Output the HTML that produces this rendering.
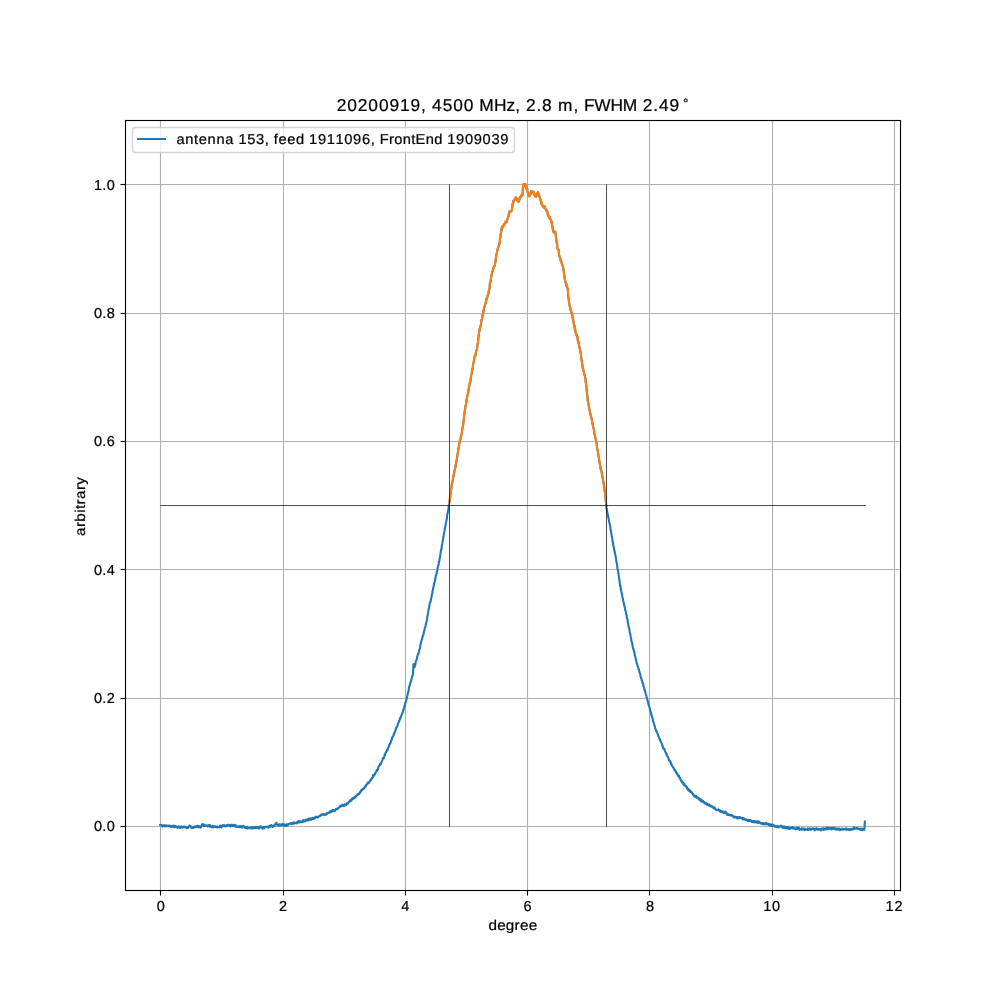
<!DOCTYPE html>
<html><head><meta charset="utf-8"><title>beam plot</title>
<style>
html,body{margin:0;padding:0;background:#fff;}
body{width:1000px;height:1000px;overflow:hidden;font-family:"Liberation Sans",sans-serif;}
svg{display:block;position:absolute;left:0;top:0;will-change:transform;}
text{font-family:"Liberation Sans",sans-serif;fill:#000;text-rendering:geometricPrecision;stroke:#000;stroke-width:0.22px;font-kerning:none;}
</style></head><body>
<svg width="1000" height="1000" viewBox="0 0 1000 1000">
<rect x="0" y="0" width="1000" height="1000" fill="#ffffff"/>
<g stroke="#b0b0b0" stroke-width="1.11" fill="none"><line x1="160.5" y1="120.5" x2="160.5" y2="890.5"/><line x1="283.5" y1="120.5" x2="283.5" y2="890.5"/><line x1="405.5" y1="120.5" x2="405.5" y2="890.5"/><line x1="527.5" y1="120.5" x2="527.5" y2="890.5"/><line x1="649.5" y1="120.5" x2="649.5" y2="890.5"/><line x1="772.5" y1="120.5" x2="772.5" y2="890.5"/><line x1="894.5" y1="120.5" x2="894.5" y2="890.5"/><line x1="125.5" y1="826.5" x2="900.5" y2="826.5"/><line x1="125.5" y1="698.5" x2="900.5" y2="698.5"/><line x1="125.5" y1="569.5" x2="900.5" y2="569.5"/><line x1="125.5" y1="441.5" x2="900.5" y2="441.5"/><line x1="125.5" y1="313.5" x2="900.5" y2="313.5"/><line x1="125.5" y1="184.5" x2="900.5" y2="184.5"/></g>
<defs><clipPath id="ax"><rect x="125.5" y="120.5" width="775.0" height="770.0"/></clipPath></defs>
<g clip-path="url(#ax)" fill="none" stroke-linejoin="round"><path d="M160.2 825.0L160.5 825.0L160.8 824.9L161.1 824.8L161.4 825.3L161.7 825.3L162.0 826.0L162.3 826.6L162.6 825.6L162.9 825.4L163.2 825.8L163.5 825.6L163.8 825.5L164.1 825.1L164.4 825.7L164.7 826.5L165.0 825.8L165.3 826.2L165.6 825.4L165.9 825.5L166.2 825.3L166.5 826.2L166.8 825.8L167.1 826.2L167.4 826.3L167.7 826.2L168.0 825.5L168.3 826.1L168.6 826.2L168.9 826.2L169.2 825.6L169.5 826.2L169.8 825.9L170.1 826.0L170.4 826.9L170.7 826.1L171.0 826.5L171.3 826.9L171.6 826.1L171.9 826.2L172.2 826.5L172.5 826.4L172.8 825.8L173.1 826.5L173.4 827.0L173.7 825.5L174.0 826.8L174.3 826.3L174.6 826.0L174.9 827.3L175.2 826.7L175.5 826.0L175.8 826.7L176.1 827.1L176.4 826.7L176.7 827.3L177.0 827.0L177.3 827.4L177.6 827.7L177.9 826.6L178.2 827.1L178.5 826.9L178.8 827.2L179.1 826.4L179.4 826.8L179.7 827.3L180.0 827.9L180.3 828.0L180.6 826.8L180.9 826.8L181.2 827.6L181.5 826.2L181.8 826.8L182.1 827.0L182.4 827.5L182.7 827.1L183.0 826.9L183.3 826.8L183.6 826.9L183.9 827.4L184.2 826.5L184.5 826.7L184.8 827.2L185.1 827.0L185.4 827.1L185.7 826.8L186.0 827.5L186.3 827.5L186.6 828.3L186.9 827.8L187.2 827.5L187.5 827.8L187.8 827.2L188.1 827.8L188.4 827.0L188.7 827.0L189.0 826.0L189.3 826.6L189.6 825.6L189.9 825.5L190.2 826.1L190.5 826.0L190.8 826.8L191.1 827.8L191.4 826.8L191.7 827.1L192.0 827.4L192.3 827.9L192.6 827.5L192.9 827.5L193.2 828.0L193.5 827.7L193.8 826.7L194.1 827.2L194.4 827.1L194.7 826.5L195.0 827.0L195.3 826.2L195.6 827.2L195.9 826.9L196.2 827.0L196.5 826.5L196.8 826.6L197.1 825.8L197.4 826.3L197.7 826.9L198.0 825.9L198.3 827.1L198.6 826.1L198.9 827.3L199.2 826.6L199.5 827.3L199.8 827.2L200.1 826.2L200.4 827.6L200.7 827.6L201.0 826.6L201.3 826.0L201.6 825.6L201.9 824.6L202.2 825.2L202.5 824.0L202.8 824.1L203.1 824.0L203.4 824.4L203.7 824.5L204.0 825.9L204.3 825.3L204.6 825.9L204.9 825.4L205.2 825.3L205.5 825.8L205.8 825.4L206.1 825.8L206.4 825.7L206.7 826.0L207.0 825.5L207.3 825.4L207.6 826.5L207.9 825.6L208.2 825.3L208.5 825.8L208.8 826.2L209.1 825.1L209.4 825.8L209.7 825.7L210.0 825.2L210.3 826.7L210.6 826.6L210.9 826.7L211.2 826.3L211.5 827.1L211.8 826.5L212.1 826.9L212.4 826.2L212.7 825.9L213.0 827.4L213.3 826.5L213.6 826.8L213.9 826.8L214.2 826.4L214.5 826.3L214.8 827.0L215.1 826.3L215.4 826.4L215.7 826.7L216.0 827.2L216.3 827.2L216.6 827.3L216.9 826.7L217.2 826.4L217.5 827.4L217.8 827.4L218.1 826.9L218.4 827.1L218.7 827.0L219.0 827.1L219.3 826.9L219.6 826.4L219.9 827.1L220.2 825.6L220.5 826.6L220.8 826.6L221.1 826.7L221.4 827.3L221.7 826.9L222.0 825.6L222.3 825.4L222.6 826.3L222.9 825.3L223.2 825.8L223.5 826.2L223.8 825.2L224.1 825.0L224.4 826.2L224.7 826.1L225.0 826.1L225.3 826.3L225.6 825.7L225.9 825.4L226.2 826.1L226.5 825.4L226.8 825.2L227.1 826.1L227.4 825.7L227.7 825.5L228.0 824.7L228.3 824.9L228.6 824.9L228.9 824.9L229.2 825.6L229.5 825.2L229.8 826.1L230.1 825.9L230.4 826.6L230.7 825.0L231.0 826.0L231.3 825.3L231.6 825.4L231.9 824.6L232.2 825.1L232.5 825.8L232.8 825.3L233.1 825.2L233.4 825.2L233.7 826.1L234.0 825.5L234.3 824.7L234.6 825.4L234.9 825.0L235.2 825.1L235.5 826.0L235.8 826.8L236.1 826.5L236.4 825.8L236.7 825.8L237.0 826.9L237.3 826.7L237.6 826.8L237.9 826.7L238.2 826.7L238.5 827.2L238.8 827.3L239.1 826.9L239.4 826.2L239.7 827.0L240.0 826.4L240.3 827.2L240.6 826.1L240.9 826.5L241.2 826.8L241.5 826.0L241.8 827.5L242.1 827.6L242.4 826.7L242.7 827.4L243.0 827.2L243.3 825.8L243.6 827.1L243.9 827.0L244.2 827.3L244.5 826.8L244.8 827.0L245.1 827.3L245.4 828.0L245.7 827.4L246.0 827.5L246.3 828.1L246.6 827.1L246.9 827.3L247.2 826.8L247.5 828.5L247.8 828.5L248.1 828.2L248.4 827.9L248.7 827.7L249.0 827.8L249.3 827.5L249.6 827.5L249.9 827.6L250.2 828.3L250.5 828.2L250.8 827.8L251.1 827.5L251.4 827.4L251.7 828.6L252.0 828.1L252.3 828.1L252.6 827.6L252.9 827.2L253.2 827.9L253.5 828.3L253.8 827.5L254.1 827.7L254.4 827.7L254.7 828.0L255.0 827.0L255.3 827.5L255.6 827.1L255.9 827.9L256.2 827.0L256.5 827.5L256.8 828.0L257.1 827.6L257.4 827.5L257.7 828.1L258.0 828.0L258.3 827.4L258.6 828.0L258.9 828.6L259.2 827.1L259.5 827.0L259.8 826.5L260.1 827.1L260.4 826.3L260.7 826.3L261.0 827.6L261.3 826.6L261.6 827.8L261.9 828.1L262.2 827.6L262.5 827.9L262.8 828.6L263.1 827.7L263.4 827.7L263.7 827.1L264.0 827.6L264.3 828.3L264.6 827.7L264.9 826.9L265.2 826.7L265.5 826.7L265.8 827.0L266.1 826.9L266.4 826.9L266.7 827.1L267.0 826.8L267.3 826.7L267.6 826.8L267.9 826.6L268.2 826.9L268.5 827.6L268.8 827.1L269.1 826.7L269.4 826.0L269.7 826.7L270.0 825.5L270.3 825.5L270.6 826.7L270.9 826.3L271.2 826.1L271.5 825.1L271.8 825.9L272.1 825.9L272.4 826.6L272.7 826.9L273.0 826.4L273.3 825.8L273.6 825.6L273.9 826.0L274.2 825.6L274.5 824.9L274.8 825.7L275.1 824.4L275.4 824.5L275.7 823.7L276.0 823.3L276.3 822.6L276.6 823.7L276.9 824.1L277.2 824.6L277.5 825.2L277.8 825.0L278.1 824.6L278.4 825.6L278.7 825.1L279.0 825.1L279.3 825.5L279.6 824.2L279.9 824.7L280.2 825.4L280.5 825.5L280.8 824.9L281.1 825.6L281.4 825.0L281.7 824.2L282.0 824.3L282.3 824.9L282.6 824.7L282.9 823.8L283.2 825.4L283.5 825.1L283.8 825.5L284.1 824.7L284.4 824.7L284.7 824.4L285.0 826.1L285.3 824.9L285.6 825.9L285.9 824.8L286.2 825.3L286.5 824.4L286.8 825.2L287.1 825.6L287.4 824.5L287.7 825.4L288.0 824.8L288.3 823.9L288.6 824.2L288.9 824.1L289.2 824.1L289.5 823.7L289.8 823.6L290.1 823.8L290.4 823.5L290.7 823.2L291.0 823.7L291.3 824.2L291.6 823.2L291.9 823.7L292.2 823.3L292.5 822.9L292.8 823.7L293.1 822.8L293.4 823.8L293.7 822.4L294.0 823.0L294.3 822.8L294.6 822.6L294.9 823.5L295.2 823.1L295.5 823.3L295.8 823.1L296.1 822.6L296.4 822.8L296.7 822.9L297.0 823.3L297.3 822.4L297.6 822.5L297.9 821.4L298.2 822.4L298.5 821.6L298.8 821.2L299.1 821.8L299.4 822.4L299.7 821.3L300.0 821.5L300.3 821.8L300.6 821.4L300.9 822.3L301.2 821.8L301.5 821.7L301.8 822.1L302.1 821.5L302.4 821.8L302.7 821.0L303.0 820.4L303.3 820.0L303.6 821.7L303.9 820.6L304.2 820.7L304.5 820.5L304.8 820.6L305.1 820.5L305.4 821.3L305.7 819.7L306.0 819.6L306.3 819.9L306.6 819.8L306.9 820.5L307.2 820.3L307.5 819.3L307.8 819.3L308.1 819.6L308.4 820.4L308.7 818.6L309.0 819.9L309.3 819.1L309.6 820.1L309.9 818.9L310.2 819.1L310.5 818.4L310.8 818.6L311.1 819.8L311.4 819.4L311.7 818.8L312.0 818.5L312.3 817.9L312.6 818.8L312.9 818.9L313.2 818.8L313.5 818.8L313.8 817.9L314.1 818.3L314.4 817.9L314.7 818.5L315.0 818.3L315.3 817.4L315.6 816.8L315.9 817.1L316.2 816.8L316.5 816.9L316.8 817.0L317.1 816.8L317.4 817.5L317.7 817.2L318.0 817.3L318.3 817.0L318.6 816.6L318.9 816.2L319.2 816.2L319.5 815.9L319.8 816.1L320.1 815.9L320.4 815.1L320.7 815.6L321.0 814.9L321.3 815.0L321.6 815.0L321.9 814.3L322.2 814.8L322.5 814.8L322.8 814.7L323.1 814.2L323.4 814.6L323.7 814.1L324.0 814.3L324.3 814.6L324.6 815.0L324.9 814.2L325.2 815.0L325.5 814.5L325.8 814.6L326.1 814.1L326.4 814.3L326.7 813.1L327.0 813.9L327.3 813.6L327.6 813.6L327.9 813.3L328.2 812.9L328.5 813.0L328.8 813.0L329.1 812.8L329.4 812.5L329.7 811.4L330.0 812.4L330.3 812.3L330.6 812.1L330.9 811.7L331.2 810.8L331.5 811.9L331.8 811.3L332.1 810.2L332.4 811.2L332.7 809.9L333.0 810.0L333.3 810.2L333.6 811.1L333.9 810.2L334.2 810.5L334.5 811.1L334.8 811.0L335.1 810.0L335.4 809.8L335.7 809.1L336.0 808.9L336.3 809.2L336.6 809.2L336.9 808.9L337.2 809.2L337.5 808.2L337.8 808.2L338.1 808.5L338.4 808.3L338.7 808.0L339.0 807.6L339.3 807.0L339.6 807.0L339.9 806.2L340.2 805.8L340.5 806.8L340.8 806.5L341.1 806.3L341.4 805.3L341.7 805.7L342.0 805.5L342.3 805.2L342.6 804.6L342.9 805.4L343.2 806.1L343.5 805.8L343.8 805.3L344.1 805.4L344.4 805.7L344.7 804.3L345.0 804.7L345.3 804.9L345.6 804.8L345.9 805.2L346.2 804.8L346.5 804.0L346.8 803.6L347.1 804.0L347.4 803.1L347.7 802.9L348.0 803.1L348.3 803.3L348.6 802.0L348.9 801.8L349.2 801.3L349.5 801.7L349.8 800.9L350.1 801.4L350.4 800.1L350.7 800.5L351.0 800.3L351.3 800.7L351.6 800.4L351.9 798.8L352.2 798.9L352.5 799.2L352.8 798.4L353.1 797.8L353.4 798.7L353.7 798.5L354.0 798.3L354.3 797.4L354.6 797.9L354.9 797.1L355.2 797.6L355.5 796.3L355.8 796.0L356.1 796.2L356.4 795.5L356.7 795.8L357.0 795.2L357.3 794.4L357.6 794.7L357.9 794.1L358.2 794.6L358.5 793.7L358.8 793.6L359.1 794.0L359.4 793.8L359.7 793.5L360.0 792.1L360.3 791.8L360.6 792.1L360.9 790.8L361.2 790.2L361.5 790.7L361.8 790.2L362.1 789.5L362.4 789.0L362.7 788.8L363.0 789.5L363.3 788.6L363.6 788.7L363.9 788.6L364.2 788.4L364.5 787.3L364.8 787.4L365.1 786.4L365.4 786.3L365.7 785.4L366.0 786.3L366.3 785.3L366.6 784.5L366.9 784.3L367.2 783.9L367.5 783.8L367.8 782.6L368.1 782.5L368.4 782.3L368.7 783.3L369.0 782.3L369.3 781.5L369.6 781.7L369.9 781.7L370.2 780.3L370.5 779.9L370.8 780.2L371.1 779.7L371.4 779.1L371.7 778.1L372.0 778.9L372.3 778.3L372.6 777.2L372.9 777.0L373.2 775.0L373.5 776.3L373.8 775.5L374.1 775.3L374.4 775.1L374.7 774.4L375.0 773.1L375.3 773.7L375.6 772.5L375.9 772.2L376.2 771.7L376.5 771.3L376.8 769.8L377.1 770.7L377.4 769.7L377.7 769.5L378.0 769.3L378.3 767.6L378.6 766.1L378.9 766.1L379.2 765.6L379.5 765.3L379.8 765.3L380.1 763.8L380.4 764.8L380.7 763.4L381.0 763.7L381.3 762.8L381.6 761.8L381.9 761.1L382.2 760.3L382.5 759.5L382.8 758.1L383.1 758.5L383.4 758.8L383.7 758.6L384.0 757.4L384.3 756.5L384.6 754.9L384.9 755.5L385.2 754.0L385.5 753.2L385.8 752.5L386.1 752.4L386.4 751.5L386.7 751.2L387.0 750.1L387.3 749.7L387.6 750.2L387.9 748.3L388.2 747.6L388.5 747.3L388.8 746.6L389.1 744.9L389.4 744.6L389.7 744.6L390.0 743.7L390.3 742.7L390.6 742.9L390.9 741.1L391.2 740.7L391.5 739.6L391.8 739.8L392.1 737.5L392.4 737.6L392.7 736.7L393.0 736.5L393.3 735.8L393.6 735.5L393.9 733.5L394.2 733.9L394.5 732.8L394.8 731.9L395.1 731.7L395.4 730.4L395.7 729.2L396.0 729.0L396.3 727.5L396.6 727.0L396.9 726.8L397.2 726.0L397.5 725.9L397.8 724.4L398.1 723.2L398.4 722.9L398.7 722.0L399.0 721.1L399.3 721.3L399.6 719.9L399.9 718.4L400.2 718.9L400.5 717.6L400.8 716.9L401.1 716.0L401.4 715.5L401.7 714.5L402.0 714.2L402.3 713.1L402.6 712.6L402.9 711.9L403.2 710.0L403.5 709.7L403.8 708.6L404.1 707.8L404.4 706.0L404.7 706.5L405.0 704.6L405.3 703.3L405.6 702.0L405.9 701.6L406.2 700.7L406.5 699.1L406.8 698.3L407.1 696.7L407.4 695.9L407.7 693.9L408.0 692.9L408.3 691.9L408.6 691.0L408.9 688.1L409.2 687.1L409.5 685.7L409.8 685.4L410.1 683.5L410.4 682.9L410.7 682.3L411.0 680.8L411.3 679.8L411.6 678.8L411.9 677.2L412.2 676.3L412.5 675.7L412.8 674.7L413.1 672.3L413.4 664.3L413.7 664.0L414.0 665.8L414.3 667.3L414.6 667.2L414.9 665.8L415.2 665.4L415.5 663.4L415.8 661.5L416.1 660.7L416.4 660.6L416.7 659.0L417.0 658.4L417.3 656.4L417.6 656.0L417.9 654.4L418.2 653.5L418.5 653.7L418.8 652.2L419.1 650.6L419.4 649.8L419.7 648.9L420.0 648.0L420.3 645.8L420.6 643.6L420.9 642.9L421.2 641.6L421.5 640.5L421.8 640.0L422.1 638.3L422.4 637.6L422.7 635.8L423.0 635.8L423.3 635.3L423.6 633.6L423.9 632.0L424.2 630.8L424.5 630.3L424.8 627.8L425.1 627.2L425.4 626.6L425.7 625.6L426.0 623.7L426.3 622.9L426.6 621.3L426.9 619.9L427.2 617.9L427.5 615.5L427.8 614.4L428.1 613.1L428.4 610.6L428.7 609.2L429.0 607.9L429.3 605.6L429.6 605.0L429.9 603.0L430.2 602.7L430.5 601.9L430.8 600.6L431.1 598.3L431.4 597.5L431.7 595.6L432.0 594.2L432.3 593.5L432.6 590.4L432.9 590.1L433.2 588.0L433.5 587.3L433.8 585.3L434.1 583.4L434.4 582.8L434.7 581.7L435.0 580.1L435.3 579.1L435.6 577.4L435.9 575.3L436.2 575.4L436.5 573.7L436.8 572.2L437.1 570.8L437.4 570.0L437.7 567.6L438.0 566.1L438.3 565.2L438.6 564.8L438.9 561.9L439.2 562.0L439.5 559.3L439.8 557.6L440.1 557.0L440.4 554.6L440.7 552.0L441.0 550.8L441.3 549.6L441.6 548.0L441.9 545.3L442.2 544.0L442.5 542.4L442.8 540.2L443.1 538.9L443.4 537.0L443.7 535.0L444.0 533.3L444.3 531.9L444.6 530.2L444.9 528.2L445.2 526.6L445.5 525.7L445.8 523.5L446.1 522.5L446.4 521.0L446.7 518.9L447.0 517.9L447.3 514.5L447.6 513.7L447.9 511.3L448.2 510.7L448.5 508.7L448.8 504.9L449.1 503.5L449.4 502.4L449.7 500.4L450.0 498.1L450.3 495.4L450.6 493.6L450.9 491.6L451.2 489.1L451.5 487.7L451.8 484.1L452.1 483.9L452.4 481.2L452.7 480.8L453.0 478.6L453.3 476.7L453.6 475.9L453.9 473.7L454.2 472.2L454.5 470.3L454.8 469.6L455.1 468.5L455.4 467.4L455.7 465.0L456.0 464.3L456.3 461.9L456.6 460.1L456.9 458.8L457.2 457.2L457.5 454.4L457.8 453.0L458.1 450.9L458.4 449.2L458.7 447.0L459.0 446.1L459.3 443.6L459.6 442.7L459.9 440.5L460.2 439.7L460.5 438.4L460.8 436.5L461.1 436.6L461.4 434.1L461.7 433.5L462.0 431.3L462.3 428.9L462.6 427.5L462.9 426.3L463.2 424.1L463.5 422.1L463.8 419.4L464.1 416.1L464.4 414.6L464.7 411.1L465.0 410.1L465.3 407.3L465.6 405.5L465.9 404.4L466.2 403.0L466.5 400.3L466.8 398.6L467.1 397.6L467.4 395.7L467.7 394.6L468.0 394.4L468.3 391.2L468.6 390.5L468.9 387.7L469.2 386.8L469.5 384.8L469.8 383.3L470.1 382.2L470.4 381.3L470.7 378.8L471.0 377.0L471.3 374.8L471.6 374.0L471.9 371.9L472.2 370.8L472.5 368.6L472.8 367.8L473.1 363.8L473.4 363.0L473.7 362.3L474.0 359.8L474.3 358.0L474.6 356.7L474.9 355.2L475.2 355.0L475.5 355.5L475.8 353.8L476.1 351.4L476.4 350.6L476.7 350.0L477.0 349.3L477.3 346.5L477.6 344.1L477.9 342.6L478.2 340.0L478.5 336.9L478.8 334.5L479.1 332.4L479.4 331.2L479.7 328.6L480.0 328.8L480.3 326.5L480.6 325.6L480.9 324.8L481.2 322.8L481.5 319.8L481.8 320.1L482.1 318.8L482.4 316.0L482.7 314.7L483.0 313.9L483.3 311.4L483.6 312.1L483.9 308.4L484.2 307.7L484.5 306.8L484.8 305.5L485.1 304.9L485.4 303.9L485.7 302.2L486.0 302.1L486.3 299.1L486.6 299.8L486.9 298.3L487.2 297.7L487.5 296.8L487.8 295.3L488.1 294.4L488.4 293.9L488.7 292.1L489.0 289.9L489.3 290.0L489.6 287.9L489.9 283.4L490.2 282.6L490.5 282.3L490.8 279.9L491.1 277.7L491.4 275.8L491.7 274.3L492.0 273.1L492.3 271.6L492.6 271.4L492.9 269.8L493.2 268.9L493.5 267.6L493.8 267.5L494.1 266.1L494.4 265.8L494.7 265.6L495.0 263.9L495.3 262.4L495.6 260.4L495.9 258.1L496.2 256.0L496.5 254.0L496.8 253.3L497.1 250.5L497.4 250.9L497.7 249.1L498.0 247.8L498.3 247.1L498.6 245.9L498.9 245.6L499.2 244.0L499.5 244.3L499.8 241.3L500.1 238.3L500.4 237.0L500.7 233.8L501.0 232.9L501.3 231.5L501.6 229.5L501.9 226.6L502.2 226.4L502.5 227.7L502.8 226.1L503.1 225.5L503.4 225.9L503.7 226.2L504.0 225.3L504.3 223.9L504.6 223.7L504.9 223.7L505.2 222.4L505.5 221.9L505.8 222.5L506.1 221.3L506.4 221.6L506.7 221.0L507.0 221.9L507.3 219.2L507.6 218.7L507.9 217.6L508.2 217.0L508.5 216.1L508.8 214.0L509.1 212.7L509.4 211.5L509.7 211.6L510.0 212.3L510.3 211.8L510.6 210.8L510.9 211.1L511.2 211.2L511.5 210.9L511.8 209.7L512.1 209.2L512.4 205.4L512.7 203.3L513.0 204.3L513.3 200.9L513.6 201.5L513.9 201.3L514.2 200.1L514.5 199.5L514.8 199.8L515.1 199.4L515.4 198.9L515.7 197.3L516.0 198.6L516.3 198.2L516.6 198.3L516.9 199.1L517.2 200.0L517.5 201.0L517.8 200.5L518.1 201.8L518.4 202.0L518.7 201.8L519.0 201.3L519.3 199.3L519.6 198.3L519.9 198.6L520.2 196.6L520.5 197.5L520.8 196.6L521.1 196.4L521.4 195.2L521.7 195.5L522.0 195.6L522.3 195.7L522.6 194.0L522.9 188.4L523.2 184.6L523.5 184.0L523.8 184.9L524.1 184.4L524.4 185.2L524.7 186.2L525.0 185.0L525.3 184.0L525.6 184.8L525.9 184.8L526.2 185.8L526.5 188.7L526.8 188.7L527.1 188.3L527.4 190.9L527.7 192.5L528.0 192.5L528.3 193.6L528.6 194.9L528.9 196.2L529.2 196.3L529.5 196.3L529.8 195.8L530.1 195.0L530.4 194.2L530.7 193.2L531.0 191.2L531.3 192.4L531.6 192.6L531.9 191.7L532.2 192.6L532.5 192.0L532.8 191.5L533.1 193.1L533.4 192.4L533.7 192.1L534.0 193.3L534.3 194.6L534.6 195.1L534.9 194.4L535.2 196.3L535.5 196.7L535.8 196.0L536.1 196.3L536.4 196.4L536.7 194.5L537.0 193.5L537.3 195.2L537.6 192.9L537.9 192.1L538.2 193.2L538.5 193.8L538.8 193.8L539.1 196.2L539.4 196.3L539.7 197.0L540.0 198.5L540.3 199.9L540.6 199.8L540.9 201.3L541.2 201.7L541.5 204.2L541.8 203.0L542.1 205.5L542.4 205.1L542.7 205.3L543.0 206.2L543.3 206.8L543.6 207.4L543.9 206.7L544.2 206.2L544.5 206.2L544.8 207.5L545.1 208.0L545.4 209.0L545.7 208.7L546.0 209.9L546.3 210.8L546.6 210.8L546.9 210.4L547.2 211.5L547.5 212.1L547.8 215.2L548.1 213.8L548.4 216.1L548.7 216.1L549.0 217.5L549.3 217.4L549.6 216.9L549.9 217.3L550.2 218.5L550.5 219.3L550.8 219.5L551.1 220.5L551.4 222.8L551.7 221.4L552.0 224.5L552.3 225.4L552.6 227.8L552.9 230.2L553.2 231.1L553.5 232.1L553.8 231.0L554.1 233.0L554.4 232.0L554.7 233.2L555.0 232.9L555.3 231.7L555.6 234.1L555.9 236.7L556.2 240.0L556.5 241.2L556.8 243.3L557.1 243.8L557.4 247.4L557.7 249.0L558.0 248.9L558.3 249.7L558.6 250.0L558.9 253.2L559.2 255.6L559.5 256.1L559.8 257.7L560.1 258.4L560.4 258.5L560.7 261.0L561.0 259.9L561.3 261.4L561.6 262.7L561.9 264.0L562.2 264.5L562.5 265.8L562.8 266.3L563.1 267.4L563.4 269.6L563.7 270.9L564.0 273.0L564.3 275.7L564.6 278.4L564.9 279.2L565.2 280.9L565.5 281.5L565.8 283.6L566.1 284.3L566.4 285.9L566.7 284.3L567.0 285.7L567.3 287.7L567.6 288.5L567.9 291.0L568.2 295.9L568.5 298.0L568.8 300.3L569.1 302.2L569.4 304.9L569.7 306.3L570.0 306.6L570.3 308.0L570.6 309.9L570.9 310.8L571.2 310.9L571.5 312.8L571.8 314.1L572.1 313.7L572.4 316.2L572.7 318.1L573.0 319.2L573.3 319.5L573.6 322.3L573.9 324.6L574.2 326.7L574.5 325.6L574.8 329.7L575.1 328.6L575.4 331.4L575.7 332.8L576.0 333.5L576.3 334.2L576.6 334.2L576.9 336.4L577.2 336.7L577.5 336.8L577.8 340.7L578.1 340.9L578.4 342.8L578.7 342.4L579.0 345.2L579.3 346.5L579.6 348.3L579.9 348.8L580.2 350.2L580.5 352.9L580.8 353.7L581.1 356.2L581.4 359.3L581.7 360.6L582.0 362.9L582.3 364.7L582.6 367.4L582.9 368.3L583.2 369.0L583.5 371.4L583.8 371.4L584.1 372.9L584.4 374.8L584.7 374.7L585.0 376.9L585.3 377.6L585.6 380.3L585.9 383.5L586.2 384.9L586.5 388.5L586.8 391.1L587.1 394.0L587.4 396.4L587.7 400.1L588.0 402.3L588.3 403.3L588.6 404.3L588.9 406.7L589.2 407.5L589.5 410.1L589.8 411.3L590.1 412.7L590.4 414.1L590.7 415.0L591.0 416.5L591.3 417.1L591.6 419.2L591.9 420.0L592.2 422.2L592.5 423.1L592.8 425.2L593.1 426.9L593.4 427.2L593.7 428.9L594.0 430.2L594.3 432.8L594.6 434.8L594.9 435.8L595.2 436.4L595.5 438.9L595.8 438.8L596.1 442.3L596.4 442.5L596.7 443.4L597.0 447.5L597.3 449.3L597.6 449.7L597.9 452.3L598.2 454.0L598.5 456.0L598.8 457.1L599.1 459.4L599.4 461.6L599.7 463.1L600.0 465.1L600.3 466.1L600.6 468.8L600.9 468.5L601.2 470.4L601.5 470.6L601.8 472.7L602.1 475.9L602.4 476.3L602.7 478.7L603.0 480.1L603.3 481.3L603.6 483.4L603.9 485.0L604.2 487.0L604.5 489.6L604.8 491.8L605.1 493.6L605.4 496.4L605.7 500.1L606.0 502.9L606.3 506.0L606.6 508.8L606.9 510.2L607.2 511.7L607.5 513.3L607.8 514.7L608.1 516.2L608.4 517.6L608.7 519.2L609.0 520.6L609.3 522.6L609.6 523.3L609.9 525.0L610.2 525.9L610.5 529.0L610.8 530.2L611.1 532.4L611.4 533.6L611.7 536.0L612.0 536.9L612.3 539.2L612.6 541.8L612.9 541.7L613.2 544.6L613.5 546.6L613.8 547.3L614.1 548.9L614.4 550.9L614.7 551.4L615.0 553.5L615.3 554.4L615.6 556.2L615.9 558.1L616.2 560.2L616.5 562.2L616.8 563.9L617.1 564.6L617.4 568.3L617.7 569.5L618.0 571.0L618.3 572.6L618.6 574.7L618.9 577.1L619.2 579.2L619.5 580.2L619.8 583.5L620.1 586.1L620.4 585.5L620.7 588.6L621.0 589.9L621.3 591.1L621.6 593.4L621.9 593.4L622.2 595.6L622.5 597.7L622.8 598.2L623.1 599.7L623.4 601.5L623.7 602.4L624.0 604.9L624.3 604.9L624.6 607.2L624.9 607.8L625.2 610.1L625.5 611.0L625.8 611.3L626.1 613.8L626.4 614.4L626.7 616.4L627.0 618.6L627.3 618.7L627.6 620.1L627.9 623.0L628.2 624.0L628.5 626.3L628.8 626.9L629.1 627.9L629.4 629.7L629.7 631.9L630.0 633.4L630.3 634.2L630.6 635.9L630.9 637.4L631.2 638.7L631.5 641.7L631.8 642.1L632.1 642.8L632.4 644.5L632.7 646.4L633.0 648.0L633.3 648.6L633.6 649.6L633.9 651.2L634.2 651.6L634.5 652.9L634.8 655.5L635.1 655.9L635.4 657.7L635.7 659.1L636.0 660.2L636.3 660.9L636.6 663.2L636.9 663.6L637.2 664.1L637.5 665.7L637.8 666.7L638.1 666.9L638.4 668.6L638.7 669.7L639.0 669.6L639.3 671.6L639.6 672.6L639.9 673.5L640.2 674.0L640.5 675.9L640.8 677.1L641.1 678.2L641.4 678.3L641.7 680.4L642.0 680.5L642.3 682.0L642.6 683.4L642.9 683.2L643.2 684.5L643.5 686.5L643.8 686.7L644.1 687.7L644.4 689.3L644.7 690.9L645.0 690.6L645.3 692.0L645.6 693.3L645.9 694.4L646.2 695.6L646.5 696.4L646.8 697.9L647.1 698.4L647.4 700.0L647.7 701.1L648.0 701.6L648.3 703.1L648.6 705.2L648.9 705.8L649.2 706.3L649.5 707.7L649.8 708.5L650.1 710.1L650.4 711.4L650.7 711.7L651.0 713.0L651.3 714.8L651.6 715.0L651.9 716.2L652.2 716.9L652.5 718.2L652.8 719.3L653.1 721.7L653.4 721.5L653.7 722.6L654.0 723.5L654.3 724.6L654.6 725.9L654.9 726.7L655.2 728.4L655.5 728.7L655.8 730.1L656.1 730.4L656.4 731.4L656.7 731.0L657.0 732.3L657.3 733.3L657.6 733.8L657.9 733.8L658.2 736.1L658.5 736.2L658.8 736.9L659.1 737.7L659.4 738.4L659.7 739.3L660.0 739.2L660.3 740.1L660.6 741.2L660.9 741.8L661.2 742.2L661.5 742.9L661.8 743.5L662.1 744.7L662.4 746.1L662.7 745.9L663.0 748.0L663.3 748.2L663.6 748.1L663.9 749.3L664.2 748.8L664.5 749.2L664.8 750.1L665.1 751.1L665.4 752.0L665.7 752.7L666.0 753.7L666.3 753.3L666.6 755.1L666.9 754.7L667.2 755.8L667.5 756.5L667.8 756.7L668.1 757.1L668.4 758.1L668.7 759.1L669.0 760.1L669.3 760.6L669.6 760.3L669.9 761.0L670.2 761.7L670.5 762.7L670.8 762.2L671.1 764.4L671.4 764.0L671.7 764.6L672.0 765.6L672.3 766.2L672.6 766.3L672.9 767.2L673.2 767.2L673.5 768.3L673.8 768.5L674.1 768.5L674.4 770.1L674.7 770.1L675.0 770.5L675.3 770.4L675.6 771.2L675.9 772.4L676.2 771.9L676.5 773.1L676.8 773.5L677.1 774.1L677.4 773.4L677.7 774.9L678.0 775.8L678.3 775.4L678.6 776.3L678.9 775.6L679.2 777.4L679.5 777.2L679.8 778.5L680.1 777.9L680.4 779.8L680.7 779.9L681.0 780.8L681.3 780.2L681.6 780.9L681.9 782.5L682.2 781.4L682.5 782.1L682.8 782.7L683.1 782.8L683.4 784.5L683.7 784.9L684.0 784.0L684.3 783.7L684.6 785.2L684.9 785.5L685.2 785.6L685.5 786.2L685.8 785.9L686.1 786.8L686.4 786.5L686.7 787.0L687.0 788.5L687.3 788.0L687.6 789.4L687.9 788.7L688.2 788.7L688.5 789.9L688.8 790.8L689.1 790.3L689.4 789.9L689.7 790.9L690.0 791.7L690.3 791.0L690.6 791.1L690.9 792.2L691.2 792.3L691.5 791.9L691.8 792.5L692.1 792.8L692.4 793.7L692.7 794.0L693.0 794.8L693.3 794.8L693.6 794.3L693.9 795.7L694.2 796.2L694.5 796.1L694.8 796.6L695.1 796.0L695.4 796.0L695.7 797.0L696.0 796.3L696.3 796.1L696.6 797.8L696.9 797.1L697.2 797.5L697.5 797.3L697.8 797.5L698.1 797.8L698.4 798.2L698.7 799.1L699.0 798.2L699.3 799.8L699.6 799.0L699.9 799.1L700.2 800.2L700.5 800.1L700.8 799.5L701.1 801.4L701.4 800.1L701.7 800.6L702.0 800.8L702.3 801.5L702.6 800.7L702.9 801.7L703.2 800.9L703.5 802.3L703.8 801.7L704.1 802.1L704.4 803.3L704.7 802.9L705.0 802.8L705.3 803.8L705.6 803.3L705.9 803.0L706.2 804.0L706.5 803.3L706.8 804.5L707.1 805.0L707.4 804.2L707.7 804.3L708.0 804.8L708.3 805.1L708.6 804.9L708.9 805.6L709.2 804.3L709.5 805.3L709.8 805.6L710.1 805.8L710.4 806.2L710.7 805.7L711.0 806.6L711.3 806.7L711.6 806.5L711.9 806.2L712.2 806.4L712.5 807.5L712.8 806.7L713.1 807.4L713.4 807.8L713.7 808.1L714.0 808.5L714.3 807.9L714.6 807.4L714.9 808.7L715.2 808.7L715.5 809.4L715.8 809.0L716.1 809.9L716.4 809.8L716.7 809.8L717.0 810.0L717.3 810.0L717.6 810.1L717.9 810.0L718.2 810.2L718.5 809.4L718.8 810.7L719.1 809.9L719.4 810.6L719.7 810.1L720.0 810.4L720.3 811.8L720.6 811.0L720.9 810.8L721.2 811.1L721.5 811.1L721.8 812.3L722.1 811.7L722.4 812.0L722.7 811.2L723.0 811.9L723.3 812.2L723.6 813.2L723.9 812.2L724.2 812.7L724.5 812.4L724.8 811.9L725.1 812.4L725.4 812.3L725.7 811.6L726.0 813.2L726.3 813.2L726.6 813.3L726.9 813.2L727.2 814.8L727.5 814.6L727.8 814.9L728.1 815.0L728.4 814.3L728.7 814.8L729.0 814.5L729.3 814.6L729.6 814.5L729.9 814.7L730.2 815.5L730.5 815.2L730.8 815.4L731.1 815.2L731.4 815.6L731.7 815.2L732.0 815.5L732.3 815.7L732.6 815.6L732.9 816.0L733.2 815.8L733.5 817.3L733.8 817.2L734.1 816.8L734.4 816.7L734.7 817.6L735.0 816.7L735.3 816.7L735.6 816.9L735.9 816.9L736.2 817.7L736.5 817.3L736.8 818.3L737.1 817.0L737.4 817.8L737.7 817.1L738.0 818.5L738.3 817.4L738.6 817.5L738.9 818.0L739.2 818.2L739.5 817.1L739.8 817.6L740.1 817.1L740.4 817.9L740.7 817.8L741.0 817.9L741.3 817.9L741.6 818.1L741.9 818.0L742.2 818.7L742.5 819.3L742.8 817.7L743.1 818.7L743.4 818.5L743.7 819.1L744.0 818.4L744.3 819.0L744.6 818.7L744.9 819.8L745.2 819.7L745.5 819.8L745.8 820.1L746.1 819.8L746.4 819.3L746.7 820.3L747.0 820.2L747.3 820.1L747.6 820.8L747.9 820.9L748.2 819.8L748.5 819.9L748.8 821.2L749.1 821.2L749.4 820.1L749.7 819.9L750.0 820.3L750.3 820.5L750.6 820.1L750.9 821.1L751.2 820.6L751.5 820.8L751.8 821.9L752.1 821.0L752.4 821.5L752.7 821.9L753.0 821.9L753.3 821.2L753.6 821.4L753.9 821.0L754.2 822.4L754.5 822.0L754.8 821.3L755.1 821.7L755.4 822.1L755.7 821.8L756.0 822.5L756.3 822.4L756.6 821.4L756.9 821.6L757.2 821.3L757.5 822.2L757.8 822.2L758.1 823.1L758.4 822.2L758.7 821.3L759.0 822.0L759.3 822.5L759.6 822.2L759.9 822.6L760.2 823.0L760.5 823.5L760.8 823.1L761.1 823.1L761.4 823.8L761.7 823.2L762.0 823.4L762.3 823.1L762.6 823.5L762.9 824.2L763.2 823.1L763.5 823.8L763.8 824.2L764.1 823.6L764.4 823.8L764.7 823.3L765.0 824.4L765.3 824.3L765.6 824.0L765.9 822.9L766.2 823.1L766.5 824.1L766.8 824.1L767.1 823.6L767.4 824.2L767.7 823.5L768.0 824.0L768.3 824.3L768.6 824.8L768.9 824.0L769.2 825.4L769.5 825.6L769.8 824.3L770.1 824.3L770.4 825.2L770.7 824.7L771.0 824.3L771.3 825.7L771.6 825.4L771.9 825.2L772.2 826.2L772.5 825.4L772.8 824.9L773.1 825.5L773.4 825.0L773.7 825.2L774.0 825.9L774.3 825.5L774.6 825.6L774.9 826.8L775.2 826.4L775.5 826.2L775.8 826.2L776.1 826.3L776.4 827.0L776.7 826.5L777.0 827.2L777.3 826.0L777.6 826.5L777.9 826.1L778.2 826.6L778.5 827.1L778.8 827.4L779.1 826.6L779.4 826.8L779.7 826.5L780.0 826.4L780.3 826.1L780.6 826.5L780.9 825.6L781.2 826.5L781.5 826.7L781.8 826.7L782.1 826.5L782.4 826.2L782.7 827.9L783.0 826.5L783.3 827.9L783.6 827.3L783.9 826.8L784.2 826.5L784.5 827.9L784.8 828.2L785.1 826.8L785.4 827.3L785.7 827.9L786.0 827.7L786.3 828.5L786.6 827.1L786.9 827.7L787.2 827.0L787.5 828.4L787.8 827.2L788.1 826.8L788.4 827.6L788.7 827.7L789.0 828.9L789.3 827.9L789.6 828.0L789.9 828.5L790.2 828.8L790.5 827.9L790.8 828.5L791.1 828.1L791.4 827.6L791.7 828.0L792.0 827.7L792.3 827.3L792.6 828.4L792.9 827.0L793.2 828.3L793.5 828.5L793.8 828.2L794.1 828.0L794.4 828.5L794.7 828.7L795.0 829.0L795.3 828.8L795.6 829.3L795.9 828.3L796.2 828.6L796.5 827.7L796.8 829.0L797.1 828.5L797.4 828.5L797.7 829.1L798.0 828.8L798.3 827.5L798.6 828.4L798.9 827.8L799.2 829.3L799.5 829.8L799.8 828.8L800.1 829.2L800.4 829.2L800.7 829.4L801.0 829.5L801.3 829.7L801.6 828.4L801.9 829.6L802.2 828.4L802.5 829.0L802.8 829.7L803.1 829.2L803.4 828.5L803.7 829.0L804.0 829.2L804.3 829.6L804.6 830.1L804.9 828.6L805.2 829.6L805.5 829.8L805.8 829.6L806.1 829.4L806.4 829.7L806.7 829.3L807.0 829.4L807.3 829.4L807.6 830.0L807.9 828.4L808.2 830.0L808.5 829.5L808.8 829.4L809.1 829.1L809.4 828.5L809.7 829.2L810.0 828.7L810.3 829.6L810.6 828.5L810.9 829.9L811.2 829.3L811.5 829.4L811.8 829.1L812.1 829.0L812.4 828.4L812.7 828.7L813.0 829.1L813.3 829.1L813.6 828.4L813.9 829.0L814.2 828.9L814.5 829.6L814.8 830.5L815.1 829.8L815.4 829.4L815.7 828.7L816.0 828.5L816.3 828.2L816.6 829.5L816.9 828.6L817.2 829.0L817.5 828.8L817.8 828.9L818.1 829.8L818.4 829.0L818.7 829.1L819.0 828.8L819.3 829.8L819.6 829.0L819.9 829.2L820.2 829.2L820.5 828.9L820.8 829.6L821.1 830.4L821.4 828.9L821.7 829.6L822.0 829.2L822.3 828.4L822.6 829.0L822.9 829.4L823.2 829.0L823.5 830.0L823.8 828.2L824.1 829.4L824.4 829.4L824.7 828.8L825.0 829.1L825.3 829.4L825.6 829.3L825.9 829.0L826.2 829.0L826.5 827.5L826.8 829.1L827.1 829.2L827.4 828.6L827.7 828.8L828.0 827.7L828.3 828.3L828.6 828.1L828.9 828.1L829.2 828.9L829.5 828.2L829.8 828.3L830.1 827.8L830.4 828.7L830.7 828.8L831.0 828.5L831.3 828.2L831.6 829.4L831.9 827.9L832.2 827.8L832.5 828.0L832.8 828.7L833.1 829.0L833.4 828.2L833.7 828.0L834.0 828.1L834.3 828.8L834.6 827.7L834.9 829.2L835.2 829.3L835.5 828.9L835.8 828.8L836.1 829.1L836.4 829.6L836.7 828.5L837.0 829.6L837.3 828.9L837.6 828.7L837.9 829.4L838.2 829.2L838.5 828.8L838.8 828.5L839.1 828.6L839.4 829.9L839.7 830.2L840.0 829.6L840.3 830.0L840.6 829.1L840.9 829.3L841.2 829.7L841.5 828.9L841.8 828.7L842.1 829.4L842.4 829.1L842.7 828.8L843.0 829.6L843.3 829.0L843.6 829.6L843.9 829.2L844.2 828.9L844.5 829.0L844.8 828.9L845.1 828.5L845.4 828.8L845.7 829.5L846.0 829.5L846.3 829.8L846.6 828.4L846.9 828.9L847.2 829.0L847.5 829.4L847.8 829.2L848.1 829.0L848.4 829.8L848.7 829.5L849.0 829.1L849.3 830.3L849.6 830.0L849.9 829.2L850.2 829.8L850.5 828.9L850.8 829.8L851.1 829.0L851.4 828.8L851.7 829.3L852.0 829.1L852.3 829.5L852.6 829.3L852.9 829.4L853.2 828.9L853.5 827.9L853.8 828.5L854.1 827.3L854.4 828.5L854.7 829.1L855.0 828.5L855.3 828.3L855.6 828.3L855.9 828.1L856.2 828.1L856.5 828.0L856.8 827.8L857.1 828.9L857.4 828.3L857.7 829.0L858.0 828.4L858.3 828.5L858.6 828.5L858.9 829.0L859.2 829.1L859.5 828.8L859.8 828.5L860.1 828.9L860.4 829.9L860.7 828.8L861.0 828.7L861.3 829.7L861.6 829.5L861.9 829.2L862.2 828.6L862.5 830.2L862.8 829.5L863.1 829.6L863.4 829.1L863.7 828.8L864.0 828.8L864.3 829.8L864.4 829.5L864.8 821.6" stroke="#1f77b4" stroke-width="2.08" stroke-linecap="square"/><path d="M449.1 503.5L449.4 502.4L449.7 500.4L450.0 498.1L450.3 495.4L450.6 493.6L450.9 491.6L451.2 489.1L451.5 487.7L451.8 484.1L452.1 483.9L452.4 481.2L452.7 480.8L453.0 478.6L453.3 476.7L453.6 475.9L453.9 473.7L454.2 472.2L454.5 470.3L454.8 469.6L455.1 468.5L455.4 467.4L455.7 465.0L456.0 464.3L456.3 461.9L456.6 460.1L456.9 458.8L457.2 457.2L457.5 454.4L457.8 453.0L458.1 450.9L458.4 449.2L458.7 447.0L459.0 446.1L459.3 443.6L459.6 442.7L459.9 440.5L460.2 439.7L460.5 438.4L460.8 436.5L461.1 436.6L461.4 434.1L461.7 433.5L462.0 431.3L462.3 428.9L462.6 427.5L462.9 426.3L463.2 424.1L463.5 422.1L463.8 419.4L464.1 416.1L464.4 414.6L464.7 411.1L465.0 410.1L465.3 407.3L465.6 405.5L465.9 404.4L466.2 403.0L466.5 400.3L466.8 398.6L467.1 397.6L467.4 395.7L467.7 394.6L468.0 394.4L468.3 391.2L468.6 390.5L468.9 387.7L469.2 386.8L469.5 384.8L469.8 383.3L470.1 382.2L470.4 381.3L470.7 378.8L471.0 377.0L471.3 374.8L471.6 374.0L471.9 371.9L472.2 370.8L472.5 368.6L472.8 367.8L473.1 363.8L473.4 363.0L473.7 362.3L474.0 359.8L474.3 358.0L474.6 356.7L474.9 355.2L475.2 355.0L475.5 355.5L475.8 353.8L476.1 351.4L476.4 350.6L476.7 350.0L477.0 349.3L477.3 346.5L477.6 344.1L477.9 342.6L478.2 340.0L478.5 336.9L478.8 334.5L479.1 332.4L479.4 331.2L479.7 328.6L480.0 328.8L480.3 326.5L480.6 325.6L480.9 324.8L481.2 322.8L481.5 319.8L481.8 320.1L482.1 318.8L482.4 316.0L482.7 314.7L483.0 313.9L483.3 311.4L483.6 312.1L483.9 308.4L484.2 307.7L484.5 306.8L484.8 305.5L485.1 304.9L485.4 303.9L485.7 302.2L486.0 302.1L486.3 299.1L486.6 299.8L486.9 298.3L487.2 297.7L487.5 296.8L487.8 295.3L488.1 294.4L488.4 293.9L488.7 292.1L489.0 289.9L489.3 290.0L489.6 287.9L489.9 283.4L490.2 282.6L490.5 282.3L490.8 279.9L491.1 277.7L491.4 275.8L491.7 274.3L492.0 273.1L492.3 271.6L492.6 271.4L492.9 269.8L493.2 268.9L493.5 267.6L493.8 267.5L494.1 266.1L494.4 265.8L494.7 265.6L495.0 263.9L495.3 262.4L495.6 260.4L495.9 258.1L496.2 256.0L496.5 254.0L496.8 253.3L497.1 250.5L497.4 250.9L497.7 249.1L498.0 247.8L498.3 247.1L498.6 245.9L498.9 245.6L499.2 244.0L499.5 244.3L499.8 241.3L500.1 238.3L500.4 237.0L500.7 233.8L501.0 232.9L501.3 231.5L501.6 229.5L501.9 226.6L502.2 226.4L502.5 227.7L502.8 226.1L503.1 225.5L503.4 225.9L503.7 226.2L504.0 225.3L504.3 223.9L504.6 223.7L504.9 223.7L505.2 222.4L505.5 221.9L505.8 222.5L506.1 221.3L506.4 221.6L506.7 221.0L507.0 221.9L507.3 219.2L507.6 218.7L507.9 217.6L508.2 217.0L508.5 216.1L508.8 214.0L509.1 212.7L509.4 211.5L509.7 211.6L510.0 212.3L510.3 211.8L510.6 210.8L510.9 211.1L511.2 211.2L511.5 210.9L511.8 209.7L512.1 209.2L512.4 205.4L512.7 203.3L513.0 204.3L513.3 200.9L513.6 201.5L513.9 201.3L514.2 200.1L514.5 199.5L514.8 199.8L515.1 199.4L515.4 198.9L515.7 197.3L516.0 198.6L516.3 198.2L516.6 198.3L516.9 199.1L517.2 200.0L517.5 201.0L517.8 200.5L518.1 201.8L518.4 202.0L518.7 201.8L519.0 201.3L519.3 199.3L519.6 198.3L519.9 198.6L520.2 196.6L520.5 197.5L520.8 196.6L521.1 196.4L521.4 195.2L521.7 195.5L522.0 195.6L522.3 195.7L522.6 194.0L522.9 188.4L523.2 184.6L523.5 184.0L523.8 184.9L524.1 184.4L524.4 185.2L524.7 186.2L525.0 185.0L525.3 184.0L525.6 184.8L525.9 184.8L526.2 185.8L526.5 188.7L526.8 188.7L527.1 188.3L527.4 190.9L527.7 192.5L528.0 192.5L528.3 193.6L528.6 194.9L528.9 196.2L529.2 196.3L529.5 196.3L529.8 195.8L530.1 195.0L530.4 194.2L530.7 193.2L531.0 191.2L531.3 192.4L531.6 192.6L531.9 191.7L532.2 192.6L532.5 192.0L532.8 191.5L533.1 193.1L533.4 192.4L533.7 192.1L534.0 193.3L534.3 194.6L534.6 195.1L534.9 194.4L535.2 196.3L535.5 196.7L535.8 196.0L536.1 196.3L536.4 196.4L536.7 194.5L537.0 193.5L537.3 195.2L537.6 192.9L537.9 192.1L538.2 193.2L538.5 193.8L538.8 193.8L539.1 196.2L539.4 196.3L539.7 197.0L540.0 198.5L540.3 199.9L540.6 199.8L540.9 201.3L541.2 201.7L541.5 204.2L541.8 203.0L542.1 205.5L542.4 205.1L542.7 205.3L543.0 206.2L543.3 206.8L543.6 207.4L543.9 206.7L544.2 206.2L544.5 206.2L544.8 207.5L545.1 208.0L545.4 209.0L545.7 208.7L546.0 209.9L546.3 210.8L546.6 210.8L546.9 210.4L547.2 211.5L547.5 212.1L547.8 215.2L548.1 213.8L548.4 216.1L548.7 216.1L549.0 217.5L549.3 217.4L549.6 216.9L549.9 217.3L550.2 218.5L550.5 219.3L550.8 219.5L551.1 220.5L551.4 222.8L551.7 221.4L552.0 224.5L552.3 225.4L552.6 227.8L552.9 230.2L553.2 231.1L553.5 232.1L553.8 231.0L554.1 233.0L554.4 232.0L554.7 233.2L555.0 232.9L555.3 231.7L555.6 234.1L555.9 236.7L556.2 240.0L556.5 241.2L556.8 243.3L557.1 243.8L557.4 247.4L557.7 249.0L558.0 248.9L558.3 249.7L558.6 250.0L558.9 253.2L559.2 255.6L559.5 256.1L559.8 257.7L560.1 258.4L560.4 258.5L560.7 261.0L561.0 259.9L561.3 261.4L561.6 262.7L561.9 264.0L562.2 264.5L562.5 265.8L562.8 266.3L563.1 267.4L563.4 269.6L563.7 270.9L564.0 273.0L564.3 275.7L564.6 278.4L564.9 279.2L565.2 280.9L565.5 281.5L565.8 283.6L566.1 284.3L566.4 285.9L566.7 284.3L567.0 285.7L567.3 287.7L567.6 288.5L567.9 291.0L568.2 295.9L568.5 298.0L568.8 300.3L569.1 302.2L569.4 304.9L569.7 306.3L570.0 306.6L570.3 308.0L570.6 309.9L570.9 310.8L571.2 310.9L571.5 312.8L571.8 314.1L572.1 313.7L572.4 316.2L572.7 318.1L573.0 319.2L573.3 319.5L573.6 322.3L573.9 324.6L574.2 326.7L574.5 325.6L574.8 329.7L575.1 328.6L575.4 331.4L575.7 332.8L576.0 333.5L576.3 334.2L576.6 334.2L576.9 336.4L577.2 336.7L577.5 336.8L577.8 340.7L578.1 340.9L578.4 342.8L578.7 342.4L579.0 345.2L579.3 346.5L579.6 348.3L579.9 348.8L580.2 350.2L580.5 352.9L580.8 353.7L581.1 356.2L581.4 359.3L581.7 360.6L582.0 362.9L582.3 364.7L582.6 367.4L582.9 368.3L583.2 369.0L583.5 371.4L583.8 371.4L584.1 372.9L584.4 374.8L584.7 374.7L585.0 376.9L585.3 377.6L585.6 380.3L585.9 383.5L586.2 384.9L586.5 388.5L586.8 391.1L587.1 394.0L587.4 396.4L587.7 400.1L588.0 402.3L588.3 403.3L588.6 404.3L588.9 406.7L589.2 407.5L589.5 410.1L589.8 411.3L590.1 412.7L590.4 414.1L590.7 415.0L591.0 416.5L591.3 417.1L591.6 419.2L591.9 420.0L592.2 422.2L592.5 423.1L592.8 425.2L593.1 426.9L593.4 427.2L593.7 428.9L594.0 430.2L594.3 432.8L594.6 434.8L594.9 435.8L595.2 436.4L595.5 438.9L595.8 438.8L596.1 442.3L596.4 442.5L596.7 443.4L597.0 447.5L597.3 449.3L597.6 449.7L597.9 452.3L598.2 454.0L598.5 456.0L598.8 457.1L599.1 459.4L599.4 461.6L599.7 463.1L600.0 465.1L600.3 466.1L600.6 468.8L600.9 468.5L601.2 470.4L601.5 470.6L601.8 472.7L602.1 475.9L602.4 476.3L602.7 478.7L603.0 480.1L603.3 481.3L603.6 483.4L603.9 485.0L604.2 487.0L604.5 489.6L604.8 491.8L605.1 493.6L605.4 496.4L605.7 500.1L606.0 502.9" stroke="#ff7f0e" stroke-width="2.08" stroke-linecap="square"/><g stroke="#000" stroke-width="0.7"><line x1="449.5" y1="184.15" x2="449.5" y2="826.85"/><line x1="606.5" y1="184.15" x2="606.5" y2="826.85"/><line x1="160.15" y1="505.5" x2="865.85" y2="505.5"/></g></g>
<g stroke="#000" stroke-width="1.11" fill="none"><rect x="125.5" y="120.5" width="775.0" height="770.0"/><line x1="160.5" y1="890.5" x2="160.5" y2="895.5"/><line x1="283.5" y1="890.5" x2="283.5" y2="895.5"/><line x1="405.5" y1="890.5" x2="405.5" y2="895.5"/><line x1="527.5" y1="890.5" x2="527.5" y2="895.5"/><line x1="649.5" y1="890.5" x2="649.5" y2="895.5"/><line x1="772.5" y1="890.5" x2="772.5" y2="895.5"/><line x1="894.5" y1="890.5" x2="894.5" y2="895.5"/><line x1="120.5" y1="826.5" x2="125.5" y2="826.5"/><line x1="120.5" y1="698.5" x2="125.5" y2="698.5"/><line x1="120.5" y1="569.5" x2="125.5" y2="569.5"/><line x1="120.5" y1="441.5" x2="125.5" y2="441.5"/><line x1="120.5" y1="313.5" x2="125.5" y2="313.5"/><line x1="120.5" y1="184.5" x2="125.5" y2="184.5"/></g>
<rect x="132.5" y="127.5" width="382" height="25" rx="2.8" ry="2.8" fill="#fff" fill-opacity="0.8" stroke="#ccc" stroke-opacity="0.8" stroke-width="1.39"/><rect x="137" y="138" width="29" height="2" fill="#1f77b4"/>
<text transform="translate(336.75 111.00) scale(1.0088 1)" font-size="17.20"><tspan x="0.00" letter-spacing="0.884">20200919,</tspan> <tspan x="94.54" letter-spacing="0.936">4500</tspan> <tspan x="141.39" letter-spacing="0.117">MHz,</tspan> <tspan x="187.57" letter-spacing="0.781">2.8</tspan> <tspan x="219.24" letter-spacing="1.111">m,</tspan> <tspan x="245.14" letter-spacing="-0.249">FWHM</tspan> <tspan x="303.42" letter-spacing="0.820">2.49</tspan><tspan x="343.34" dy="-3.45" font-size="13.5" stroke-width="0.25">°</tspan></text>
<text transform="translate(176.52 143.70) scale(1.0263 1)" font-size="14.30"><tspan x="0.00" letter-spacing="0.620">antenna</tspan> <tspan x="60.32" letter-spacing="0.586">153,</tspan> <tspan x="94.78" letter-spacing="0.555">feed</tspan> <tspan x="129.17" letter-spacing="0.628">1911096,</tspan> <tspan x="197.99" letter-spacing="0.311">FrontEnd</tspan> <tspan x="263.78" letter-spacing="0.671">1909039</tspan></text>
<text transform="translate(93.92 189.90) scale(1.0000 1)" font-size="14.50"><tspan x="0.00" letter-spacing="0.348">1.0</tspan></text>
<text transform="translate(93.92 317.90) scale(1.0000 1)" font-size="14.50"><tspan x="0.00" letter-spacing="0.348">0.8</tspan></text>
<text transform="translate(93.92 445.90) scale(1.0000 1)" font-size="14.50"><tspan x="0.00" letter-spacing="0.348">0.6</tspan></text>
<text transform="translate(93.92 574.90) scale(1.0000 1)" font-size="14.50"><tspan x="0.00" letter-spacing="0.348">0.4</tspan></text>
<text transform="translate(93.92 702.90) scale(1.0000 1)" font-size="14.50"><tspan x="0.00" letter-spacing="0.348">0.2</tspan></text>
<text transform="translate(93.92 830.90) scale(1.0000 1)" font-size="14.50"><tspan x="0.00" letter-spacing="0.348">0.0</tspan></text>
<text transform="translate(156.70 910.90) scale(1.0000 1)" font-size="14.50"><tspan x="0.00" letter-spacing="0.776">0</tspan></text>
<text transform="translate(279.00 910.90) scale(1.0000 1)" font-size="14.50"><tspan x="0.00" letter-spacing="0.776">2</tspan></text>
<text transform="translate(401.30 910.90) scale(1.0000 1)" font-size="14.50"><tspan x="0.00" letter-spacing="0.776">4</tspan></text>
<text transform="translate(523.60 910.90) scale(1.0000 1)" font-size="14.50"><tspan x="0.00" letter-spacing="0.776">6</tspan></text>
<text transform="translate(645.90 910.90) scale(1.0000 1)" font-size="14.50"><tspan x="0.00" letter-spacing="0.776">8</tspan></text>
<text transform="translate(763.28 910.90) scale(1.0000 1)" font-size="14.50"><tspan x="0.00" letter-spacing="0.776">10</tspan></text>
<text transform="translate(885.58 910.90) scale(1.0000 1)" font-size="14.50"><tspan x="0.00" letter-spacing="0.776">12</tspan></text>
<text transform="translate(488.41 929.70) scale(1.0705 1)" font-size="14.30"><tspan x="0.00" letter-spacing="0.205">degree</tspan></text>
<text transform="translate(84.80 535.96) rotate(-90) scale(1.0573 1)" font-size="14.30"><tspan x="0.00" letter-spacing="0.405">arbitrary</tspan></text>
</svg>
</body></html>
